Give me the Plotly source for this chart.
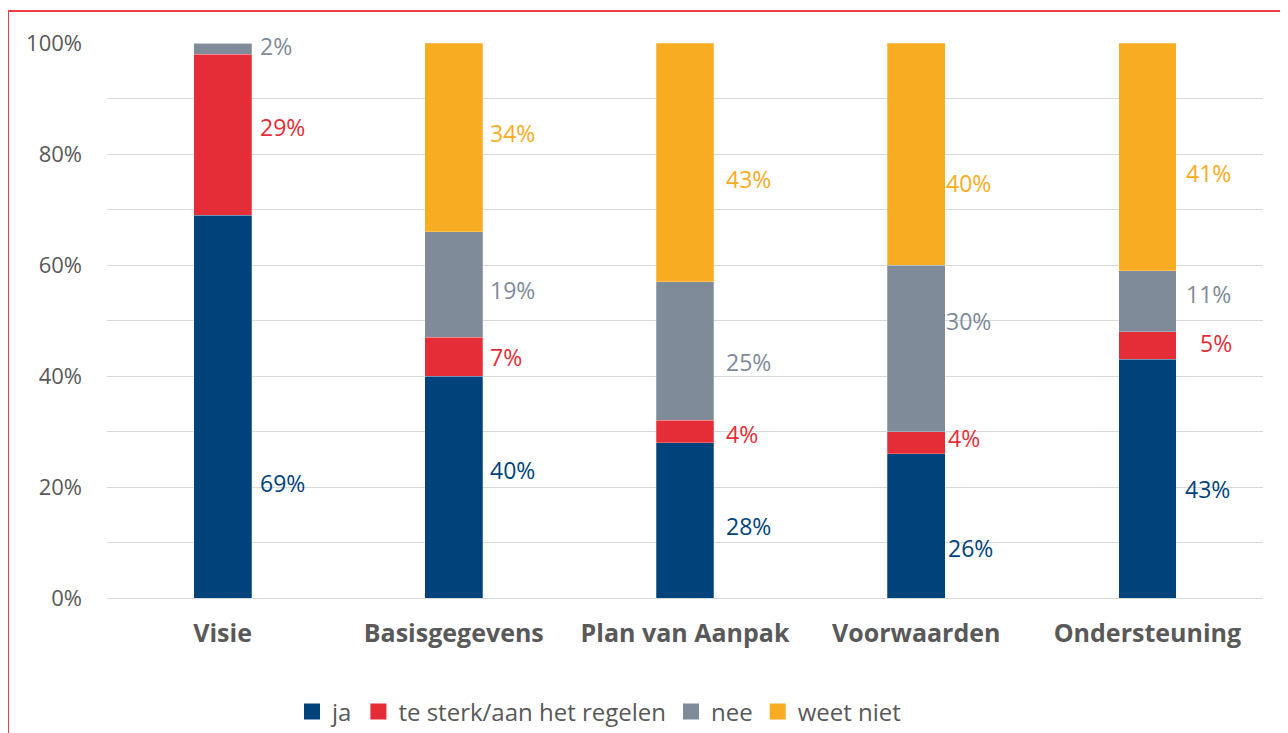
import plotly.graph_objects as go

categories = ["Visie", "Basisgegevens", "Plan van Aanpak", "Voorwaarden", "Ondersteuning"]
series_names = ["ja", "te sterk/aan het regelen", "nee", "weet niet"]
ja = [69, 40, 28, 26, 43]
te_sterk = [29, 7, 4, 4, 5]
nee = [2, 19, 25, 30, 11]
weet_niet = [0, 34, 43, 40, 41]
y_ticks = [0, 20, 40, 60, 80, 100]

colors = ["#00437A", "#E52D38", "#808B9A", "#F7AC21"]
series = [ja, te_sterk, nee, weet_niet]

# label placement (percent height, px shift from category centre), per series then category
label_y = [
    [20.7, 23.1, 13.0, 9.0, 19.6],
    [84.9, 43.4, 29.5, 28.8, 45.9],
    [99.5, 55.5, 42.5, 49.9, 54.8],
    [None, 83.8, 75.5, 74.8, 76.6],
]
label_dx = [
    [35, 34, 39, 30, 36],
    [35, 34, 39, 30, 51],
    [35, 34, 39, 28, 37],
    [35, 34, 39, 28, 37],
]

FONT = "Open Sans, Noto Sans, sans-serif"

fig = go.Figure()
for name, vals, col in zip(series_names, series, colors):
    fig.add_trace(go.Bar(
        x=categories, y=vals, name=name, showlegend=False,
        marker=dict(color=col, line=dict(color="rgba(255,255,255,0.5)", width=0.5)),
        hoverinfo="skip",
    ))
# legend entries with square swatches
for name, col in zip(series_names, colors):
    fig.add_trace(go.Scatter(
        x=[None], y=[None], mode="markers", name=name,
        marker=dict(symbol="square", size=16, color=col), hoverinfo="skip",
    ))

annotations = []
for s, vals in enumerate(series):
    for i, v in enumerate(vals):
        if v == 0 or label_y[s][i] is None:
            continue
        annotations.append(dict(
            x=categories[i], y=label_y[s][i], xref="x", yref="y",
            text=f"{v}%", showarrow=False, xanchor="left", yanchor="middle",
            xshift=label_dx[s][i],
            font=dict(family=FONT, size=23, color=colors[s]),
        ))

# page body adds an 8px offset; work in figure pixels
OFF = 8
W, H = 1288, 733
L, R, T, B = 107 - OFF, W - (1263 - OFF), 43 - OFF, H - (598 - OFF)
pw, ph = W - L - R, H - T - B

def px(x):
    return (x - OFF - L) / pw

def py(y):
    return (H - B - (y - OFF)) / ph

fig.add_shape(type="rect", xref="paper", yref="paper",
              x0=px(8), x1=px(1320), y0=py(780), y1=py(11),
              line=dict(color="#EE3B48", width=2), fillcolor="rgba(0,0,0,0)", layer="above")

fig.update_layout(
    barmode="stack",
    bargap=0.75,
    width=W, height=H,
    margin=dict(l=L, r=R, t=T, b=B, autoexpand=False),
    plot_bgcolor="white", paper_bgcolor="white",
    font=dict(family=FONT, color="#595959"),
    annotations=annotations,
    showlegend=True,
    legend=dict(orientation="h", xref="container", yref="container",
                x=(292 - OFF) / W, xanchor="left",
                y=1 - (712 - OFF) / H, yanchor="middle",
                font=dict(size=24, color="#595959"), traceorder="normal",
                itemwidth=30, tracegroupgap=0),
    yaxis=dict(range=[0, 100], tickvals=y_ticks, ticktext=[f"{t}%" for t in y_ticks],
               showgrid=True, gridcolor="#D9D9D9", gridwidth=1,
               minor=dict(dtick=10, showgrid=True, gridcolor="#D9D9D9", gridwidth=1),
               zeroline=False, showline=False, ticks="",
               tickfont=dict(size=22, color="#595959"), ticklabelstandoff=24),
    xaxis=dict(showline=True, linecolor="#D9D9D9", linewidth=1, ticks="",
               tickfont=dict(size=25, color="#595959", weight="bold"),
               ticklabelstandoff=13),
)

fig.write_html("out.html")
